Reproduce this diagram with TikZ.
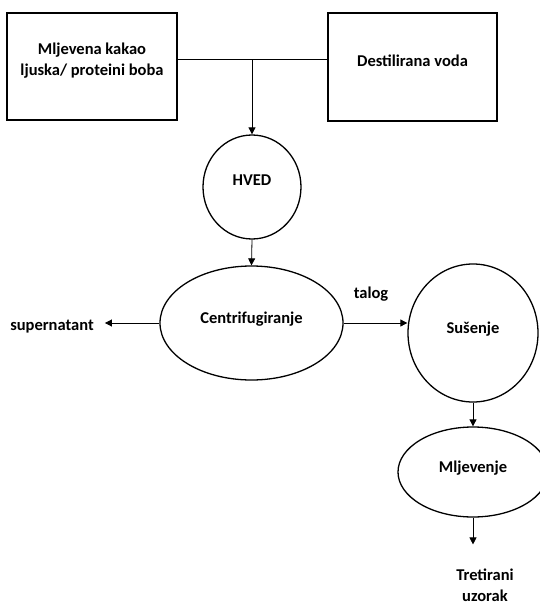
\documentclass[tikz,border=0pt]{standalone}
\usepackage{fontspec}
\setmainfont{Carlito}
\usetikzlibrary{shapes.geometric,arrows.meta}
\begin{document}
\begin{tikzpicture}[x=1pt,y=-1pt,
  every node/.style={font=\fontsize{16.5}{21}\selectfont\bfseries},
  box/.style={draw, line width=1.6pt, rectangle, inner sep=0pt},
  oval/.style={draw, line width=1.3pt, ellipse, inner sep=0pt},
  lbl/.style={inner sep=0pt, text height=11pt, text depth=3pt},
  mlbl/.style={inner sep=0pt, align=center},
  link/.style={line width=0.8pt},
  conn/.style={line width=0.8pt, -{Triangle[length=7pt,width=7pt]}},
  ]
\useasboundingbox (0,0) rectangle (539,605);

\node[box, minimum width=170pt, minimum height=107pt,
  label={[mlbl, yshift=5.5pt]center:Mljevena kakao\\ljuska/ proteini boba}] (lb) at (92,66.5) {};
\node[box, minimum width=169pt, minimum height=108pt,
  label={[lbl, yshift=5pt]center:Destilirana voda}] (rb) at (412.5,67) {};
\coordinate (j) at (252,59);

\node[oval, minimum width=98pt, minimum height=104pt,
  label={[lbl, yshift=5.5pt]center:HVED}] (hved) at (252,187) {};
\node[oval, minimum width=183pt, minimum height=114pt,
  label={[lbl, yshift=4pt]center:Centrifugiranje}] (centri) at (251.5,323) {};
\node[oval, minimum width=130pt, minimum height=138pt,
  label={[lbl, yshift=4pt]center:Sušenje}] (sus) at (473,333) {};
\node[oval, minimum width=150pt, minimum height=90pt,
  label={[lbl, yshift=4pt]center:Mljevenje}] (mlj) at (473,472) {};

\node[lbl] (sup) at (52,326) {supernatant};
\node[lbl] (talog) at (371,294) {talog};
\node[mlbl] (tret) at (485,585) {Tretirani\\uzorak};

\draw[link] (lb.east |- j) -- (rb.west |- j);
\draw[conn] (j) -- (hved.north);
\draw[conn] (hved.south) -- (centri.north);
\draw[conn, shorten >=11pt] (centri.west) -- (centri.west -| sup.east);
\draw[conn] (centri.east) -- (centri.east -| sus.west);
\draw[conn] (sus.south) -- (mlj.north);
\draw[conn, shorten >=24pt] (mlj.south) -- (mlj.south |- tret.north);
\end{tikzpicture}
\end{document}
